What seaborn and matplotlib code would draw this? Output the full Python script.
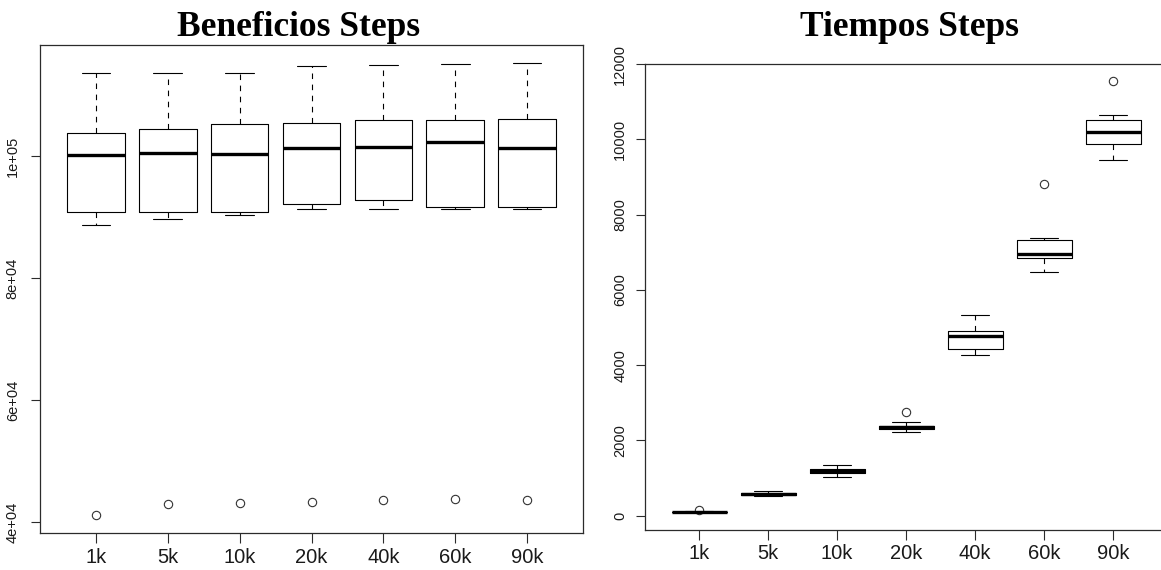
import matplotlib
matplotlib.use("Agg")
import matplotlib.pyplot as plt
import seaborn as sns

# Step sizes shared by both panels
steps = ["1k", "5k", "10k", "20k", "40k", "60k", "90k"]

# Beneficios: five-number summaries and outliers per step size
ben_whislo = [88700, 89700, 90400, 91300, 91300, 91300, 91350]
ben_q1 = [90900, 90900, 90900, 92250, 92850, 91750, 91750]
ben_med = [100200, 100500, 100300, 101400, 101500, 102300, 101400]
ben_q3 = [103900, 104400, 105300, 105400, 105950, 105900, 106200]
ben_whishi = [113600, 113600, 113600, 114850, 115050, 115200, 115300]
ben_out = [[41150], [43000], [43150], [43350], [43550], [43750], [43550]]
ben_ticks = [40000, 60000, 80000, 100000]
ben_ticklabels = ["4e+04", "6e+04", "8e+04", "1e+05"]

# Tiempos: five-number summaries and outliers per step size
tie_whislo = [87, 525, 1040, 2215, 4275, 6490, 9450]
tie_q1 = [95, 540, 1125, 2305, 4430, 6845, 9885]
tie_med = [100, 570, 1190, 2350, 4785, 6950, 10210]
tie_q3 = [105, 605, 1235, 2395, 4905, 7320, 10515]
tie_whishi = [115, 655, 1355, 2485, 5335, 7375, 10655]
tie_out = [[150], [], [], [2750], [], [8810], [11560]]
tie_ticks = [0, 2000, 4000, 6000, 8000, 10000, 12000]
tie_ticklabels = [str(t) for t in tie_ticks]

sns.set_theme(style="ticks")
plt.rcParams["font.family"] = ["Liberation Sans", "DejaVu Sans"]

fig = plt.figure(figsize=(11.61, 5.70), dpi=100)
ax_l = fig.add_axes([40 / 1161, 37 / 570, 543 / 1161, 488 / 570])
ax_r = fig.add_axes([645.3 / 1161, 40.3 / 570, 521.7 / 1161, 466.2 / 570])

axis_col = "#2b2b2b"


def draw_panel(ax, whislo, q1, med, q3, whishi, fliers, ticks, ticklabels, ypad):
    stats = []
    for i, lab in enumerate(steps):
        stats.append(dict(label=lab, whislo=whislo[i], q1=q1[i], med=med[i],
                          q3=q3[i], whishi=whishi[i], fliers=fliers[i]))
    ax.bxp(stats, positions=range(1, len(steps) + 1), widths=0.8,
           capwidths=0.4, patch_artist=False,
           boxprops=dict(color="black", linewidth=0.8),
           medianprops=dict(color="black", linewidth=2.4, solid_capstyle="butt"),
           whiskerprops=dict(color="black", linewidth=0.8,
                             linestyle=(0, (5, 5))),
           capprops=dict(color="black", linewidth=0.8),
           flierprops=dict(marker="o", markersize=6, markerfacecolor="none",
                           markeredgecolor="#333333", markeredgewidth=0.8,
                           linestyle="none"))
    allv = whislo + whishi + [v for f in fliers for v in f]
    lo, hi = min(allv), max(allv)
    pad = 0.04 * (hi - lo)
    ax.set_ylim(lo - pad, hi + pad)
    ax.set_xlim(0.22, len(steps) + 0.78)
    ax.set_yticks(ticks)
    ax.set_yticklabels(ticklabels, rotation=90, va="center", fontsize=10.5,
                       color="#1a1a1a")
    ax.set_xticks(range(1, len(steps) + 1))
    ax.set_xticklabels(steps, fontsize=14.5, color="#1a1a1a")
    ax.tick_params(axis="y", length=6.5, width=0.8, color=axis_col, pad=ypad)
    ax.tick_params(axis="x", length=7, width=0.8, color=axis_col, pad=3.5)
    for sp in ax.spines.values():
        sp.set_color(axis_col)
        sp.set_linewidth(0.9)
        sp.set_visible(True)
    ax.set_facecolor("white")
    ax.grid(False)


draw_panel(ax_l, ben_whislo, ben_q1, ben_med, ben_q3, ben_whishi, ben_out,
           ben_ticks, ben_ticklabels, ypad=8)
draw_panel(ax_r, tie_whislo, tie_q1, tie_med, tie_q3, tie_whishi, tie_out,
           tie_ticks, tie_ticklabels, ypad=6.5)

title_kw = dict(fontsize=25.5, fontweight="bold", va="baseline", ha="center",
                family=["Liberation Serif", "DejaVu Serif"], color="black")
fig.text(299 / 1161, 1 - 36 / 570, "Beneficios Steps", **title_kw)
fig.text(910 / 1161, 1 - 36 / 570, "Tiempos Steps", **title_kw)

fig.savefig("out.png", dpi=100, facecolor="white")
